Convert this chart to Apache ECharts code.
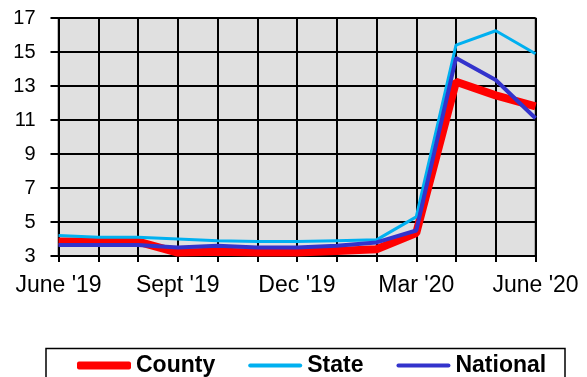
<!DOCTYPE html>
<html><head><meta charset="utf-8">
<script src="https://cdn.jsdelivr.net/npm/echarts@6/dist/echarts.min.js"></script>
<style>html,body{margin:0;padding:0;background:#fff}#c{width:587px;height:377px}</style>
</head><body><div id="c"></div>
<script>
const months = ["June '19","July '19","Aug '19","Sept '19","Oct '19","Nov '19","Dec '19","Jan '20","Feb '20","Mar '20","Apr '20","May '20","June '20"];
const county   = [3.85, 3.85, 3.85, 3.2, 3.25, 3.2, 3.2, 3.3, 3.4, 4.35, 13.25, 12.45, 11.8];
const state    = [4.2, 4.1, 4.1, 4.0, 3.9, 3.85, 3.85, 3.9, 3.95, 5.3, 15.4, 16.25, 14.9];
const national = [3.65, 3.65, 3.65, 3.5, 3.6, 3.5, 3.5, 3.6, 3.8, 4.5, 14.65, 13.35, 11.1];
const yTicks = {min: 3, max: 17, interval: 2};

const chart = echarts.init(document.getElementById('c'), null, {renderer: 'canvas'});
const font = 'Liberation Sans, Arial, sans-serif';
const thinIcon = 'path://M2,0 L52,0 A2,2 0 0 1 52,4 L2,4 A2,2 0 0 1 2,0 Z';
chart.setOption({
  animation: false,
  grid: {left: 58.5, right: 51.5, top: 18, bottom: 121, show: true, backgroundColor: '#E0E0E0', borderColor: '#808080', borderWidth: 2},
  graphic: [{type: 'rect', shape: {x: 46, y: 348.5, width: 519, height: 40}, style: {fill: 'none', stroke: '#000', lineWidth: 1.5}, z: 1}],
  legend: {
    left: 72, top: 349, itemGap: 33, itemWidth: 54, itemHeight: 8,
    textStyle: {fontFamily: font, fontSize: 23, fontWeight: 'bold', color: '#000'},
    data: [
      {name: 'County', icon: 'roundRect', itemStyle: {color: '#FF0000'}},
      {name: 'State', icon: thinIcon, itemStyle: {color: '#00B0F0'}},
      {name: 'National', icon: thinIcon, itemStyle: {color: '#3333CC'}}
    ]
  },
  xAxis: {
    type: 'category', data: months, boundaryGap: false,
    axisLine: {lineStyle: {color: '#000', width: 2}},
    axisTick: {show: true, interval: 0, length: 6, lineStyle: {color: '#000', width: 2}},
    axisLabel: {interval: 2, margin: 18, color: '#000', fontFamily: font, fontSize: 23},
    splitLine: {show: true, interval: 0, lineStyle: {color: '#000', width: 2}}
  },
  yAxis: {
    type: 'value', min: yTicks.min, max: yTicks.max, interval: yTicks.interval,
    axisLine: {show: true, lineStyle: {color: '#000', width: 2}},
    axisTick: {show: true, length: 8, lineStyle: {color: '#000', width: 2}},
    axisLabel: {margin: 23, color: '#000', fontFamily: font, fontSize: 20},
    splitLine: {show: true, lineStyle: {color: '#000', width: 2}}
  },
  series: [
    {name: 'County', type: 'line', data: county, symbol: 'none', lineStyle: {color: '#FF0000', width: 8}, itemStyle: {color: '#FF0000'}, z: 3},
    {name: 'State', type: 'line', data: state, symbol: 'none', lineStyle: {color: '#00B0F0', width: 3}, itemStyle: {color: '#00B0F0'}, z: 4},
    {name: 'National', type: 'line', data: national, symbol: 'none', lineStyle: {color: '#3333CC', width: 4}, itemStyle: {color: '#3333CC'}, z: 5}
  ]
});
</script></body></html>
